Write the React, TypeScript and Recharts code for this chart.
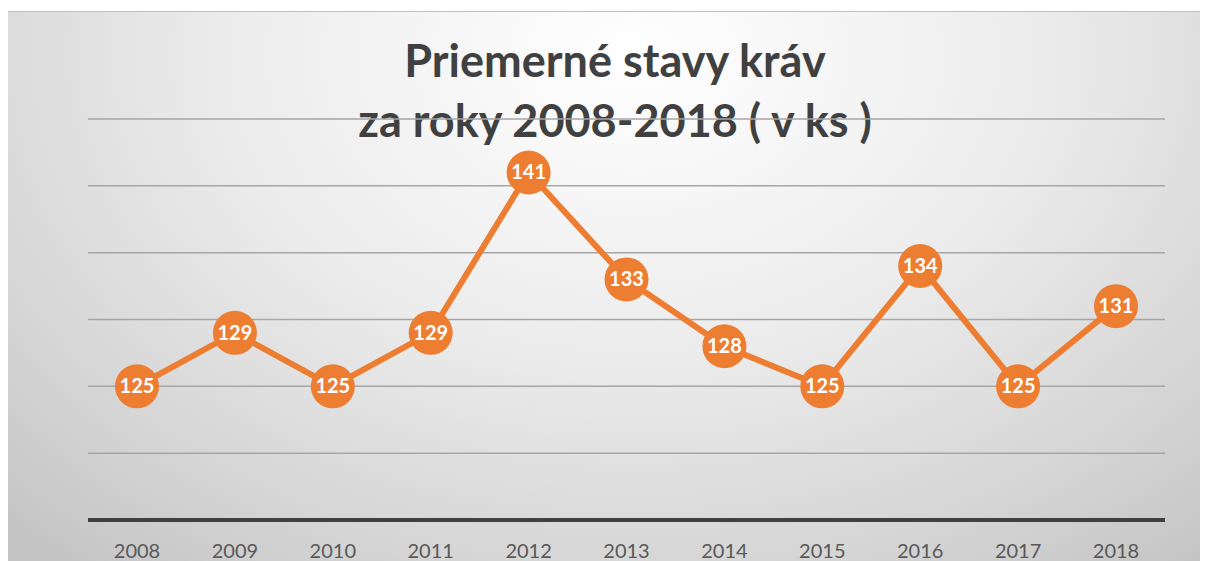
import React from "react";
import { LineChart, Line, XAxis, YAxis, CartesianGrid, LabelList } from "recharts";

const years = ["2008", "2009", "2010", "2011", "2012", "2013", "2014", "2015", "2016", "2017", "2018"];
const cows = [125, 129, 125, 129, 141, 133, 128, 125, 134, 125, 131];
const yTicks = [115, 120, 125, 130, 135, 140, 145];

const data = years.map((y, i) => ({ year: y, value: cows[i] }));

const FONT = "Lato, 'Open Sans', sans-serif";
const ORANGE = "#ED7D31";

function YearTick(props: any) {
  const { x, y, payload } = props;
  return (
    <text x={x} y={y + 30} textAnchor="middle" fontSize={20} fill="#595959" fontFamily={FONT}>
      {payload.value}
    </text>
  );
}

function Dot(props: any) {
  const { cx, cy } = props;
  if (cx == null || cy == null) return null;
  return <circle cx={cx} cy={cy} r={22} fill={ORANGE} />;
}

function ValueLabel(props: any) {
  const { x, y, value } = props;
  return (
    <text x={x} y={y + 7} textAnchor="middle" fontSize={20} fontWeight={700} fill="#ffffff" fontFamily={FONT}>
      {value}
    </text>
  );
}

export default function App() {
  return (
    <div
      style={{
        position: "relative",
        width: 1200,
        height: 550,
        marginTop: 3,
        borderTop: "1px solid #c0c0c0",
        boxSizing: "border-box",
        background: "radial-gradient(ellipse 75% 120% at 52% 8%, #ffffff 0%, #ececec 45%, #d4d4d4 80%, #c4c4c4 100%)",
        overflow: "hidden",
      }}
    >
      <div
        style={{
          position: "absolute",
          left: 0,
          top: 18,
          width: 1214,
          textAlign: "center",
          fontFamily: FONT,
          fontWeight: 700,
          fontSize: 45,
          lineHeight: "60px",
          color: "#404040",
        }}
      >
        <div>Priemerné stavy kráv</div>
        <div>za roky 2008-2018 ( v ks )</div>
      </div>
      <LineChart
        width={1200}
        height={549}
        data={data}
        margin={{ top: 107, right: 43, bottom: 0, left: 80 }}
        style={{ position: "absolute", left: 0, top: 0 }}
      >
        <CartesianGrid vertical={false} stroke="#a6a6a6" strokeWidth={1.5} />
        <YAxis hide domain={[115, 145]} ticks={yTicks} />
        <XAxis
          dataKey="year"
          height={41}
          padding={{ left: 49, right: 49 }}
          axisLine={{ stroke: "#404040", strokeWidth: 4 }}
          tickLine={false}
          tick={<YearTick />}
          interval={0}
        />
        <Line
          type="linear"
          dataKey="value"
          stroke={ORANGE}
          strokeWidth={6}
          dot={<Dot />}
          activeDot={false}
          isAnimationActive={false}
        >
          <LabelList dataKey="value" content={<ValueLabel />} />
        </Line>
      </LineChart>
    </div>
  );
}
